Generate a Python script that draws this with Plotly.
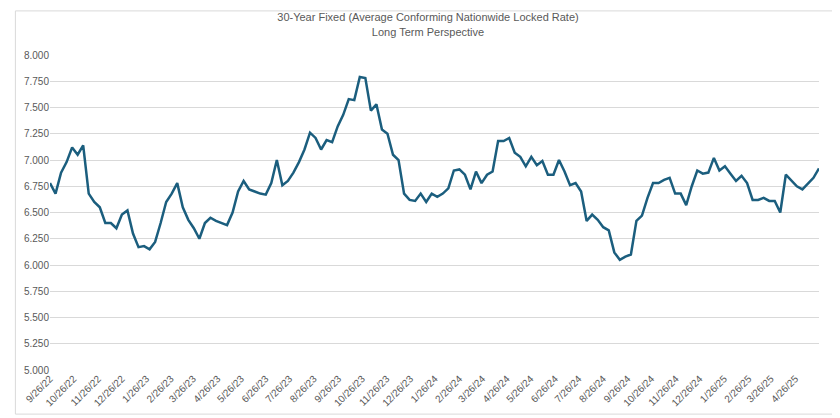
import plotly.graph_objects as go
import pandas as pd

start_date = "2022-09-26"
rates = [6.78,6.68,6.88,6.98,7.12,7.05,7.14,6.68,6.60,6.55,6.40,6.40,6.35,6.48,6.52,6.30,6.17,6.18,6.15,6.22,
         6.40,6.60,6.68,6.78,6.55,6.43,6.35,6.25,6.40,6.45,6.42,6.40,6.38,6.50,6.70,6.80,6.72,6.70,6.68,6.67,
         6.78,7.00,6.76,6.80,6.88,6.98,7.10,7.26,7.21,7.10,7.19,7.17,7.32,7.43,7.58,7.57,7.79,7.78,7.47,7.53,
         7.29,7.25,7.05,7.00,6.68,6.62,6.61,6.68,6.60,6.68,6.65,6.68,6.73,6.90,6.91,6.86,6.72,6.89,6.78,6.86,
         6.89,7.18,7.18,7.21,7.07,7.03,6.94,7.03,6.95,6.99,6.86,6.86,7.00,6.89,6.76,6.78,6.70,6.42,6.48,6.43,
         6.36,6.33,6.12,6.05,6.08,6.10,6.42,6.47,6.64,6.78,6.78,6.81,6.83,6.68,6.68,6.57,6.75,6.90,6.87,6.88,
         7.02,6.90,6.94,6.87,6.80,6.85,6.78,6.62,6.62,6.64,6.61,6.61,6.50,6.86,6.80,6.75,6.72,6.78,6.83,6.92]
dates = pd.date_range(start_date, periods=len(rates), freq="7D")
tick_dates = pd.date_range("2022-09-01", "2025-04-26", freq="MS") + pd.Timedelta(days=25)
tick_labels = [f"{d.month}/{d.day}/{d.strftime('%y')}" for d in tick_dates]
y_ticks = [5 + 0.25 * i for i in range(13)]

fig = go.Figure(go.Scatter(x=dates, y=rates, mode="lines",
                           line=dict(color="#1B5E7E", width=2.5)))
fig.update_layout(
    width=840, height=418,
    margin=dict(l=42, r=29, t=47, b=56, autoexpand=False),
    paper_bgcolor="white", plot_bgcolor="white",
    showlegend=False,
    font=dict(family="Liberation Sans", size=10, color="#595959"),
    title=dict(text="30-Year Fixed (Average Conforming Nationwide Locked Rate)<br>Long Term Perspective",
               x=0.5, xanchor="center", y=0.968, yanchor="top",
               font=dict(size=11, color="#595959")),
    shapes=[dict(type="rect", xref="paper", yref="paper", x0=-0.045, x1=1.025, y0=-0.14, y1=1.14,
                 line=dict(color="#D9D9D9", width=1))],
)
fig.update_xaxes(range=[dates[0], dates[-1]], tickvals=tick_dates, ticktext=tick_labels,
                 tickangle=-45, showgrid=False, showline=False, ticks="", automargin=False)
fig.update_yaxes(range=[5, 8], tickvals=y_ticks, tickformat=".3f", showgrid=True,
                 gridcolor="#D9D9D9", zeroline=False, showline=False, ticks="", automargin=False)
fig.write_html("out.html")
